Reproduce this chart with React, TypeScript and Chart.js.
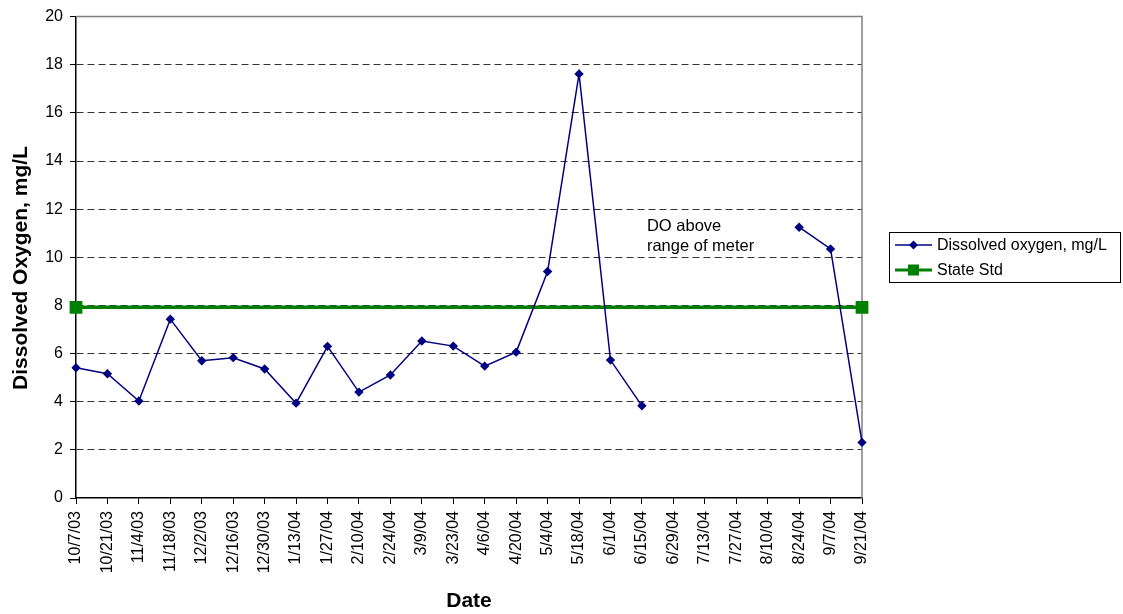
import React, { useEffect, useRef } from "react";
import { Chart, registerables } from "chart.js";

Chart.register(...registerables);

const dates = [
  "10/7/03", "10/21/03", "11/4/03", "11/18/03", "12/2/03", "12/16/03", "12/30/03",
  "1/13/04", "1/27/04", "2/10/04", "2/24/04", "3/9/04", "3/23/04", "4/6/04", "4/20/04",
  "5/4/04", "5/18/04", "6/1/04", "6/15/04", "6/29/04", "7/13/04", "7/27/04", "8/10/04",
  "8/24/04", "9/7/04", "9/21/04",
];

const dissolvedOxygen: (number | null)[] = [
  5.41, 5.16, 4.03, 7.43, 5.7, 5.83, 5.36, 3.94, 6.3, 4.4, 5.11, 6.52, 6.31, 5.48, 6.06,
  9.41, 17.62, 5.73, 3.83, null, null, null, null, 11.25, 10.35, 2.31,
];

const stateStd: number[] = dates.map(() => 7.92);

const yTicks = [0, 2, 4, 6, 8, 10, 12, 14, 16, 18, 20];
const seriesNames = ["Dissolved oxygen, mg/L", "State Std"];
const annotationLines = ["DO above", "range of meter"];
const xTitle = "Date";
const yTitle = "Dissolved Oxygen, mg/L";

const FONT = "'Liberation Sans', Arial, sans-serif";
const NAVY = "#000080";
const GREEN = "#008000";

const decorPlugin = {
  id: "decor",
  beforeDatasetsDraw(chart: any) {
    const { ctx, chartArea } = chart;
    ctx.save();
    ctx.strokeStyle = "#808080";
    ctx.lineWidth = 1.5;
    ctx.beginPath();
    ctx.moveTo(chartArea.left, chartArea.top);
    ctx.lineTo(chartArea.right, chartArea.top);
    ctx.lineTo(chartArea.right, chartArea.bottom);
    ctx.stroke();
    ctx.restore();
  },
  afterDraw(chart: any) {
    const { ctx, chartArea, scales } = chart;
    ctx.save();
    ctx.fillStyle = "#000";

    // annotation
    ctx.font = `16.5px ${FONT}`;
    ctx.textAlign = "left";
    ctx.textBaseline = "middle";
    const ax = scales.x.getPixelForValue(18.16);
    const ay = scales.y.getPixelForValue(11.3);
    annotationLines.forEach((t, i) => ctx.fillText(t, ax, ay + i * 20));

    // axis titles
    ctx.font = `bold 21px ${FONT}`;
    ctx.textAlign = "center";
    ctx.textBaseline = "alphabetic";
    ctx.fillText(xTitle, (chartArea.left + chartArea.right) / 2, 607);
    ctx.save();
    ctx.translate(27, 268);
    ctx.rotate(-Math.PI / 2);
    ctx.fillText(yTitle, 0, 0);
    ctx.restore();

    // legend
    const lx = 889, ly = 232, lw = 231, lh = 50;
    ctx.strokeStyle = "#000";
    ctx.lineWidth = 1;
    ctx.strokeRect(lx + 0.5, ly + 0.5, lw, lh);
    ctx.font = `16px ${FONT}`;
    ctx.textAlign = "left";
    ctx.textBaseline = "middle";
    const rows = [ly + 13, ly + 38];
    // row 1
    ctx.strokeStyle = NAVY;
    ctx.lineWidth = 1.5;
    ctx.beginPath();
    ctx.moveTo(895, rows[0]);
    ctx.lineTo(932, rows[0]);
    ctx.stroke();
    ctx.fillStyle = NAVY;
    ctx.beginPath();
    ctx.moveTo(913.5, rows[0] - 4.5);
    ctx.lineTo(918, rows[0]);
    ctx.lineTo(913.5, rows[0] + 4.5);
    ctx.lineTo(909, rows[0]);
    ctx.closePath();
    ctx.fill();
    ctx.fillStyle = "#000";
    ctx.fillText(seriesNames[0], 937, rows[0] + 1);
    // row 2
    ctx.strokeStyle = GREEN;
    ctx.lineWidth = 3;
    ctx.beginPath();
    ctx.moveTo(895, rows[1]);
    ctx.lineTo(932, rows[1]);
    ctx.stroke();
    ctx.fillStyle = GREEN;
    ctx.fillRect(908, rows[1] - 5.5, 11, 11);
    ctx.fillStyle = "#000";
    ctx.fillText(seriesNames[1], 937, rows[1] + 1);

    ctx.restore();
  },
};

export default function App() {
  const canvasRef = useRef<HTMLCanvasElement | null>(null);

  useEffect(() => {
    document.body.style.margin = "0";
    const canvas = canvasRef.current;
    if (!canvas) return;
    const lastIdx = stateStd.length - 1;
    const chart = new Chart(canvas, {
      type: "line",
      data: {
        labels: dates,
        datasets: [
          {
            label: seriesNames[1],
            data: stateStd,
            borderColor: GREEN,
            backgroundColor: GREEN,
            borderWidth: 3.5,
            pointStyle: "rect",
            pointRadius: (c: any) => (c.dataIndex === 0 || c.dataIndex === lastIdx ? 9 : 0),
            pointHoverRadius: 0,
            pointBorderWidth: 0,
            order: 2,
          },
          {
            label: seriesNames[0],
            data: dissolvedOxygen,
            borderColor: NAVY,
            backgroundColor: NAVY,
            borderWidth: 1.5,
            pointStyle: "rectRot",
            pointRadius: 4.7,
            pointBorderWidth: 0,
            spanGaps: false,
            order: 1,
          },
        ],
      },
      options: {
        responsive: false,
        animation: false,
        events: [],
        layout: { padding: { left: 0, top: 15, right: 261, bottom: 0 } },
        plugins: {
          legend: { display: false },
          tooltip: { enabled: false },
          title: { display: false },
        },
        scales: {
          x: {
            type: "category",
            offset: false,
            afterFit: (s: any) => {
              s.height = 116;
            },
            grid: {
              drawOnChartArea: false,
              drawTicks: true,
              tickLength: 6,
              tickColor: "#000",
              offset: false,
            },
            border: { display: true, color: "#000", width: 1.5 },
            ticks: {
              autoSkip: false,
              minRotation: 90,
              maxRotation: 90,
              padding: 7,
              color: "#000",
              font: { family: FONT, size: 16 },
            },
          },
          y: {
            min: 0,
            max: 20,
            afterFit: (s: any) => {
              s.width = 76;
            },
            afterBuildTicks: (s: any) => {
              s.ticks = yTicks.map((v) => ({ value: v }));
            },
            grid: {
              color: (c: any) =>
                c.tick && (c.tick.value === 0 || c.tick.value === 20) ? "rgba(0,0,0,0)" : "#333",
              lineWidth: 1,
              tickLength: 6,
              tickColor: "#000",
            },
            border: { display: true, color: "#000", width: 1.5, dash: [7, 4] },
            ticks: {
              padding: 7,
              color: "#000",
              font: { family: FONT, size: 16 },
            },
          },
        },
      },
      plugins: [decorPlugin],
    } as any);
    return () => chart.destroy();
  }, []);

  return (
    <div style={{ width: 1123, height: 614 }}>
      <canvas ref={canvasRef} width={1123} height={614} style={{ display: "block" }} />
    </div>
  );
}
